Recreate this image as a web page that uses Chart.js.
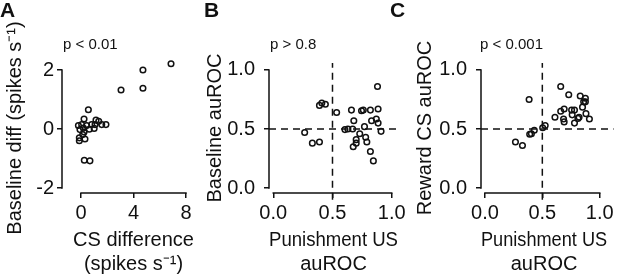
<!DOCTYPE html>
<html>
<head>
<meta charset="utf-8">
<title>Baseline vs CS / US auROC</title>
<script src="https://cdn.jsdelivr.net/npm/chart.js@4.4.1/dist/chart.umd.min.js"></script>
<style>
    html, body { margin: 0; padding: 0; background: #fff; }
    #wrap { position: relative; width: 617px; height: 276px; }
    #wrap canvas { position: absolute; left: 0; top: 0; }
</style>
</head>
<body>
<div id="wrap">
    <canvas id="panel-a" width="617" height="276"></canvas>
    <canvas id="panel-b" width="617" height="276"></canvas>
    <canvas id="panel-c" width="617" height="276"></canvas>
</div>
<script>
// Panel A: CS difference vs baseline difference (spikes s-1)
const csDiffA   = [0.56, 0.23, 1.14, 1.35, -0.20, 0.05, 0.43, 0.81, 1.07, 1.58, 1.90, 0.18, 0.63, 1.00,
                   -0.08, 0.23, 0.13, -0.13, 0.30, -0.13, 0.25, 0.68, 3.05, 4.72, 4.72, 6.86];
const baseDiffA = [0.65, 0.34, 0.30, 0.26, 0.12, 0.15, 0.12, 0.15, 0.15, 0.15, 0.15, 0.03, -0.01, 0.02,
                   -0.02, -0.10, -0.19, -0.30, -0.34, -0.40, -1.06, -1.08, 1.32, 2.00, 1.38, 2.21];

// Panel B: punishment US auROC vs baseline auROC
const punishB   = [0.265, 0.33, 0.39, 0.39, 0.41, 0.44, 0.535, 0.605, 0.63, 0.66, 0.67, 0.68, 0.675, 0.70, 0.70,
                   0.73, 0.745, 0.76, 0.77, 0.78, 0.79, 0.82, 0.83, 0.82, 0.845, 0.87, 0.885, 0.88, 0.885, 0.91];
const baselineB = [0.47, 0.38, 0.39, 0.70, 0.72, 0.71, 0.64, 0.495, 0.50, 0.66, 0.50, 0.57, 0.35, 0.38, 0.41,
                   0.46, 0.655, 0.66, 0.52, 0.43, 0.39, 0.66, 0.57, 0.31, 0.23, 0.585, 0.67, 0.86, 0.55, 0.48];

// Panel C: punishment US auROC vs reward CS auROC
const punishC   = [0.266, 0.327, 0.385, 0.39, 0.405, 0.43, 0.503, 0.525, 0.61, 0.66, 0.66, 0.69, 0.685, 0.69,
                   0.73, 0.755, 0.76, 0.78, 0.78, 0.81, 0.82, 0.83, 0.85, 0.86, 0.875, 0.875, 0.88, 0.91];
const rewardC   = [0.39, 0.36, 0.75, 0.455, 0.46, 0.49, 0.51, 0.53, 0.60, 0.86, 0.65, 0.67, 0.585, 0.56,
                   0.79, 0.66, 0.62, 0.66, 0.55, 0.59, 0.60, 0.78, 0.685, 0.73, 0.76, 0.73, 0.63, 0.585];

// Tick values and labels
const ticksAx = [0, 4, 8];
const ticksAy = [-2, 0, 2];
const ticksAuroc = [0, 0.5, 1];
const labelsAuroc = ['0.0', '0.5', '1.0'];

// Dashed reference lines at auROC = 0.5
const vLineX = [0.5, 0.5];
const vLineY = [-0.1, 1.06];
const hLineX = [-0.036, 1.053];
const hLineY = [0.5, 0.5];

const ink = '#111111';
const fontFamily = '"Liberation Sans", Arial, Helvetica, sans-serif';

Chart.defaults.font.family = fontFamily;
Chart.defaults.color = ink;

function toPoints(xs, ys) {
    return xs.map((x, i) => ({ x: x, y: ys[i] }));
}

// draws the spines (only between first and last tick), panel letter and p value
const panelDecor = {
    id: 'panelDecor',
    afterDraw(chart, args, opts) {
        const { ctx, chartArea } = chart;
        const x = chart.scales.x;
        const y = chart.scales.y;
        const xt = opts.xTicks;
        const yt = opts.yTicks;
        ctx.save();
        ctx.strokeStyle = ink;
        ctx.lineWidth = 1.5;
        ctx.beginPath();
        ctx.moveTo(chartArea.left, y.getPixelForValue(yt[0]) + 0.75);
        ctx.lineTo(chartArea.left, y.getPixelForValue(yt[yt.length - 1]) - 0.75);
        ctx.moveTo(x.getPixelForValue(xt[0]) - 0.75, chartArea.bottom);
        ctx.lineTo(x.getPixelForValue(xt[xt.length - 1]) + 0.75, chartArea.bottom);
        ctx.stroke();

        ctx.fillStyle = ink;
        ctx.textBaseline = 'middle';
        ctx.textAlign = 'left';
        ctx.font = 'bold 21px ' + fontFamily;
        ctx.fillText(opts.letter, opts.letterX, 11);
        ctx.font = '15px ' + fontFamily;
        ctx.fillText(opts.pText, chartArea.left + opts.pDx, 45);
        ctx.restore();
    }
};

function scatterSet(points) {
    return {
        data: points,
        pointRadius: 2.8,
        pointBorderWidth: 1.5,
        borderColor: ink,
        backgroundColor: 'rgba(0,0,0,0)',
        clip: false,
        order: 1
    };
}

function dashSet(xs, ys, dash) {
    return {
        data: toPoints(xs, ys),
        showLine: true,
        pointRadius: 0,
        borderColor: ink,
        borderWidth: 1.5,
        borderDash: dash,
        clip: false,
        order: 2
    };
}

function makePanel(id, p) {
    return new Chart(document.getElementById(id), {
        type: 'scatter',
        data: { datasets: p.datasets },
        options: {
            responsive: false,
            animation: false,
            events: [],
            layout: { padding: { left: p.padLeft, right: p.padRight, top: 63, bottom: 0 } },
            plugins: {
                legend: { display: false },
                tooltip: { enabled: false },
                panelDecor: { xTicks: p.xTicks, yTicks: p.yTicks, letter: p.letter, letterX: p.letterX,
                              pText: p.pText, pDx: p.pDx }
            },
            scales: {
                x: {
                    type: 'linear',
                    min: p.xMin,
                    max: p.xMax,
                    afterBuildTicks: axis => { axis.ticks = p.xTicks.map(v => ({ value: v })); },
                    afterFit: axis => { axis.height = 83; },
                    border: { display: false },
                    grid: { drawOnChartArea: false, drawTicks: true, tickLength: 5, color: ink, lineWidth: 1.5 },
                    ticks: {
                        padding: 3,
                        maxRotation: 0,
                        font: { size: 20 },
                        callback: (value, index) => p.xLabels[index]
                    },
                    title: { display: true, text: p.xTitle, padding: { top: 0, bottom: 0 },
                             font: { size: 20, lineHeight: 1.2 } }
                },
                y: {
                    type: 'linear',
                    min: p.yMin,
                    max: p.yMax,
                    afterBuildTicks: axis => { axis.ticks = p.yTicks.map(v => ({ value: v })); },
                    afterFit: axis => { axis.width = p.yWidth; },
                    border: { display: false },
                    grid: { drawOnChartArea: false, drawTicks: true, tickLength: 5, color: ink, lineWidth: 1.5 },
                    ticks: {
                        padding: p.yTickPad,
                        font: { size: 20 },
                        callback: (value, index) => p.yLabels[index]
                    },
                    title: { display: true, text: p.yTitle, padding: { top: 3, bottom: 0 },
                             font: { size: 20, lineHeight: 1.2 } }
                }
            }
        },
        plugins: [panelDecor]
    });
}

makePanel('panel-a', {
    datasets: [scatterSet(toPoints(csDiffA, baseDiffA))],
    padLeft: 0, padRight: 412, yWidth: 62,
    xMin: -1.45, xMax: 9.45, yMin: -2.169, yMax: 2.237,
    xTicks: ticksAx, xLabels: ticksAx.map(String),
    yTicks: ticksAy, yLabels: ticksAy.map(String),
    yTickPad: 3,
    xTitle: ['CS difference', '(spikes s\u207B\u00B9)'],
    yTitle: 'Baseline diff (spikes s\u207B\u00B9)',
    letter: 'A', letterX: 0, pText: 'p < 0.01', pDx: 1
});

makePanel('panel-b', {
    datasets: [scatterSet(toPoints(punishB, baselineB)), dashSet(vLineX, vLineY, [7, 5]), dashSet(hLineX, hLineY, [7, 5])],
    padLeft: 200, padRight: 219, yWidth: 69,
    xMin: -0.036, xMax: 1.053, yMin: -0.042, yMax: 1.059,
    xTicks: ticksAuroc, xLabels: labelsAuroc,
    yTicks: ticksAuroc, yLabels: labelsAuroc,
    yTickPad: 9,
    xTitle: ['Punishment US', 'auROC'],
    yTitle: 'Baseline auROC',
    letter: 'B', letterX: 204, pText: 'p > 0.8', pDx: 1
});

makePanel('panel-c', {
    datasets: [scatterSet(toPoints(punishC, rewardC)), dashSet(vLineX, vLineY, [7, 5]), dashSet([-0.034, 1.12], hLineY, [7, 5])],
    padLeft: 410, padRight: 6, yWidth: 71,
    xMin: -0.034, xMax: 1.064, yMin: -0.042, yMax: 1.059,
    xTicks: ticksAuroc, xLabels: labelsAuroc,
    yTicks: ticksAuroc, yLabels: labelsAuroc,
    yTickPad: 9,
    xTitle: ['Punishment US', 'auROC'],
    yTitle: 'Reward CS auROC',
    letter: 'C', letterX: 390, pText: 'p < 0.001', pDx: -1
});
</script>
</body>
</html>
